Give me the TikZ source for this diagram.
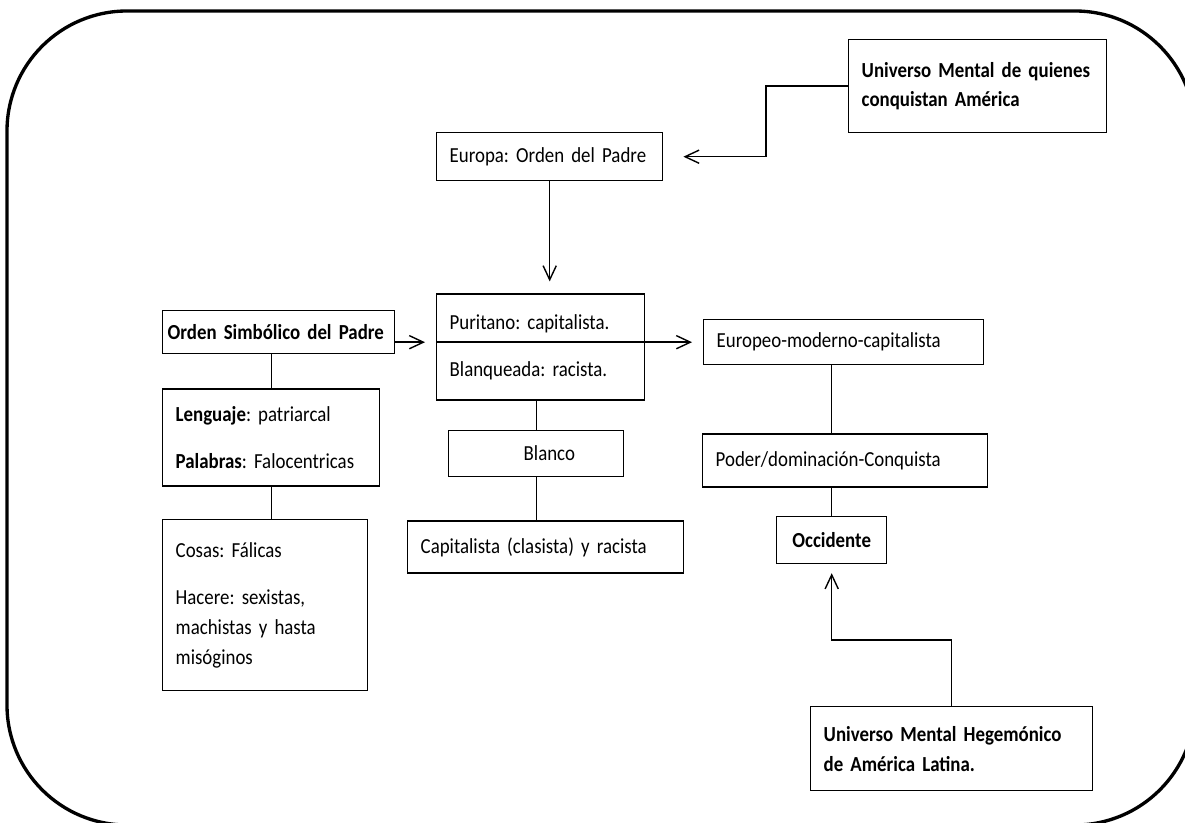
\documentclass[tikz,border=0pt]{standalone}
\usepackage{fontspec}
\setmainfont{Carlito}[FakeStretch=0.88, WordSpace=0.7]
\usetikzlibrary{positioning,arrows.meta}

\begin{document}
\begin{tikzpicture}[
  font=\fontsize{12.2}{17}\selectfont\frenchspacing, >={Straight Barb[length=8pt,width=7.5pt]},
  box/.style={draw, line width=0.8pt, align=left, anchor=north west,
              inner xsep=0.26cm, inner ysep=0pt},
  arr/.style={->, line width=0.8pt},
  link/.style={line width=0.8pt},
]
\clip (0,0) rectangle (23.7,-16.46);
\draw[line width=1.9pt, rounded corners=2.4cm] (0.14,-0.22) rectangle (23.9,-16.5);

\node[box, text width=4.64cm, minimum height=1.86cm] (univ) at (16.96,-0.78)
  {\textbf{Universo Mental de quienes}\\\textbf{conquistan América}};
\node[box, text width=4cm, minimum height=0.96cm] (europa) at (8.72,-2.64)
  {Europa: Orden del Padre};
\node[box, text width=3.64cm, minimum height=2.12cm, below=2.24cm of europa.south west, anchor=north west] (purit)
  {Puritano: capitalista.\\[10pt]Blanqueada: racista.};
\node[box, text width=2.98cm, minimum height=0.92cm, below=0.58cm of purit.south west, anchor=north west, xshift=0.24cm] (blanco)
  {\hspace*{1.24cm}Blanco};
\node[box, text width=5cm, minimum height=1.04cm, below=0.86cm of blanco.south west, anchor=north west, xshift=-0.82cm] (capit)
  {Capitalista (clasista) y racista};

\node[box, inner xsep=0.1cm, text width=4.44cm, minimum height=0.86cm] (orden) at (3.24,-6.2)
  {\textbf{Orden Simbólico del Padre}};
\node[box, text width=3.82cm, minimum height=1.94cm, below=0.68cm of orden.south west, anchor=north west] (leng)
  {\textbf{Lenguaje}: patriarcal\\[10pt]\textbf{Palabras}: Falocentricas};
\node[box, text width=3.58cm, minimum height=3.42cm, below=0.64cm of leng.south west, anchor=north west] (cosas)
  {Cosas: Fálicas\\[10pt]Hacere: sexistas,\\machistas y hasta\\misóginos};

\node[box, text width=5.08cm, minimum height=0.9cm] (europeo) at (14.06,-6.38)
  {Europeo-moderno-capitalista};
\node[box, text width=5.18cm, minimum height=1.06cm, below=1.36cm of europeo.south west, anchor=north west, xshift=-0.02cm] (poder)
  {Poder/dominación-Conquista};
\node[box, align=center, text width=1.68cm, minimum height=0.94cm, below=0.56cm of poder.south west, anchor=north west, xshift=1.48cm] (occid)
  {\textbf{Occidente}};
\node[box, text width=5.12cm, minimum height=1.68cm] (hegem) at (16.2,-14.12)
  {\textbf{Universo Mental Hegemónico}\\\textbf{de América Latina.}};

% conectores
\draw[arr, shorten >=0.4cm] (univ.west) -- ++(-1.64,0) |- (europa.east);
\draw[arr, shorten >=0.24cm] (europa.south) -- (europa.south |- purit.north);
\draw[arr, shorten >=0.22cm] (orden.east |- europeo.west) -- (purit.west |- europeo.west);
\draw[arr, shorten >=0.22cm] (purit.west |- europeo.west) -- (europeo.west);
\draw[link] (leng.north) -- (leng.north |- orden.south);
\draw[link] (leng.south) -- (leng.south |- cosas.north);
\draw[link] (blanco.north) -- (blanco.north |- purit.south);
\draw[link] (blanco.south) -- (blanco.south |- capit.north);
\draw[link] (occid.north |- europeo.south) -- (occid.north |- poder.north);
\draw[link] (poder.south -| occid.north) -- (occid.north);
\draw[arr, shorten >=0.18cm] (hegem.north) -- ++(0,1.32) -| (occid.south);
\end{tikzpicture}
\end{document}
